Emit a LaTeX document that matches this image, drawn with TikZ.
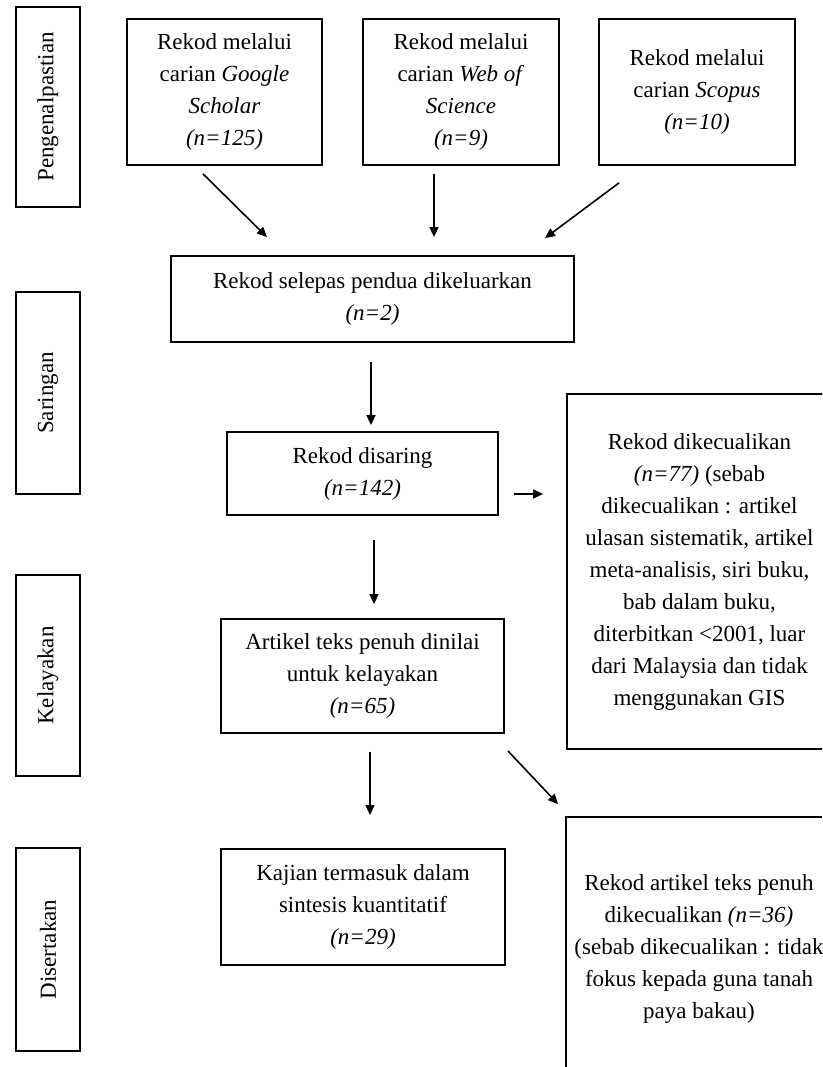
\documentclass[tikz,border=0pt]{standalone}
\usepackage{fontspec}
\setmainfont{Liberation Serif}
\usetikzlibrary{arrows.meta,calc}
\tikzset{
  box/.style={draw=black, line width=1.8pt, inner sep=0pt, align=center,
    font=\fontsize{23pt}{32pt}\selectfont},
  sidebox/.style={box, minimum width=64pt},
  sidetext/.style={rotate=90, inner sep=0pt, font=\fontsize{23pt}{32pt}\selectfont},
  arr/.style={line width=1.6pt, -{Triangle[length=10pt,width=9pt]}}
}
\begin{document}
\begin{tikzpicture}[x=1pt,y=-1pt]
\useasboundingbox (0,0) rectangle (822,1067);
\clip (0,0) rectangle (822,1067);
% side stage boxes
\node[sidebox, minimum height=200pt] (lab1) at (48,107) {};
\node[sidetext] (t1) at (lab1.center) {Pengenalpastian};
\node[sidebox, minimum height=202pt] (lab2) at (48,393) {};
\node[sidetext] (t2) at (lab2.center) {Saringan};
\node[sidebox, minimum height=201pt] (lab3) at (48,675.5) {};
\node[sidetext] (t3) at (lab3.center) {Kelayakan};
\node[sidebox, minimum height=203pt] (lab4) at (48,949.5) {};
\node[sidetext] (t4) at (lab4.center) {Disertakan};
% top source boxes
\node[box, minimum width=195pt, minimum height=146pt] (gs) at (224.5,92)
  {Rekod melalui\\carian \textit{Google}\\\textit{Scholar}\\\textit{(n=125)}};
\node[box, minimum width=196pt, minimum height=146pt] (wos) at (461,92)
  {Rekod melalui\\carian \textit{Web of}\\\textit{Science}\\\textit{(n=9)}};
\node[box, minimum width=196pt, minimum height=146pt] (sc) at (697,92)
  {Rekod melalui\\carian \textit{Scopus}\\\textit{(n=10)}};
% main flow
\node[box, minimum width=403pt, minimum height=86pt] (sel) at (372.5,299)
  {Rekod selepas pendua dikeluarkan\\\textit{(n=2)}};
\node[box, minimum width=271pt, minimum height=83pt] (dis) at (362.5,473.5)
  {Rekod disaring\\\textit{(n=142)}};
\node[box, minimum width=283pt, minimum height=114pt] (art) at (362.5,676)
  {Artikel teks penuh dinilai\\untuk kelayakan\\\textit{(n=65)}};
\node[box, minimum width=284pt, minimum height=116pt] (kaj) at (363,907)
  {Kajian termasuk dalam\\sintesis kuantitatif\\\textit{(n=29)}};
% exclusion boxes
\node[box, minimum width=265pt, minimum height=355pt] (exc1) at (699.5,571.5)
  {Rekod dikecualikan\\\textit{(n=77)} (sebab\\dikecualikan : artikel\\ulasan sistematik, artikel\\meta-analisis, siri buku,\\bab dalam buku,\\diterbitkan <2001, luar\\dari Malaysia dan tidak\\menggunakan GIS};
\node[box, minimum width=266pt, minimum height=264pt] (exc2) at (699,949)
  {Rekod artikel teks penuh\\dikecualikan \textit{(n=36)}\\(sebab dikecualikan : tidak\\fokus kepada guna tanah\\paya bakau)};
% connectors
\draw[arr] ($(gs.south)+(-21.5,8)$) -- ($(sel.north)+(-105.5,-18)$);
\draw[arr] ($(wos.south)+(-27,8)$) -- ($(sel.north)+(61.5,-18)$);
\draw[arr] ($(sc.south)+(-78,17)$) -- ($(sel.north)+(172.5,-17)$);
\draw[arr] ($(sel.south)+(-1.5,19)$) -- ($(dis.north)+(8.5,-6)$);
\draw[arr] ($(dis.east)+(15,20.5)$) -- ($(exc1.west)+(-23,-77.5)$);
\draw[arr] ($(dis.south)+(11.5,24)$) -- ($(art.north)+(11.5,-14)$);
\draw[arr] ($(art.south)+(7.5,18)$) -- ($(kaj.north)+(7,-33)$);
\draw[arr] ($(art.south east)+(3,17)$) -- ($(exc2.north west)+(-7,-12)$);
\end{tikzpicture}
\end{document}
